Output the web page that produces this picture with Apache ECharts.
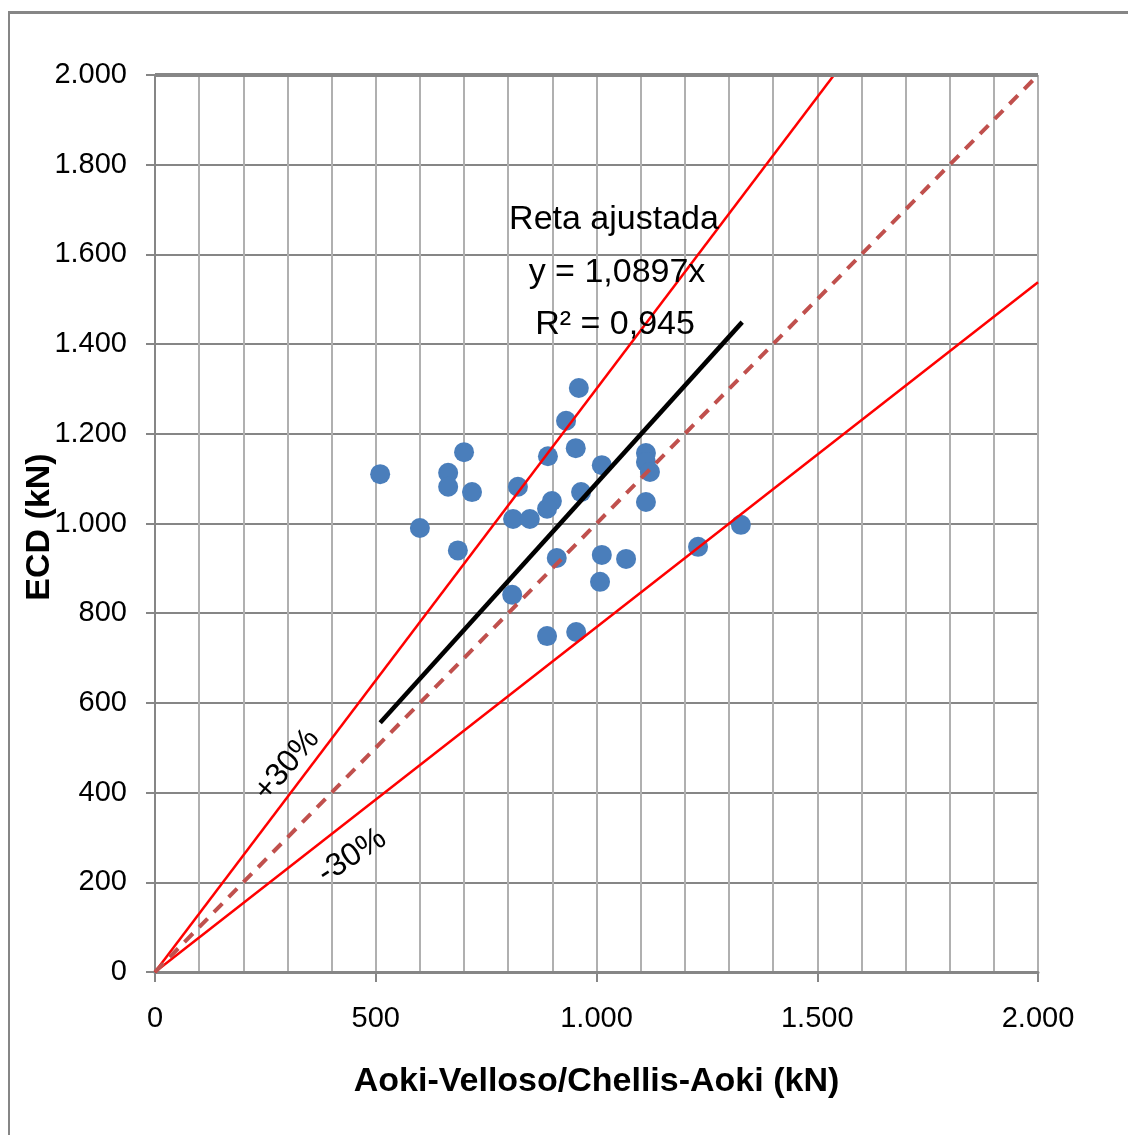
<!DOCTYPE html>
<html>
<head>
<meta charset="utf-8">
<script src="https://cdn.jsdelivr.net/npm/echarts@6/dist/echarts.min.js"></script>
<style>
html,body{margin:0;padding:0;background:#fff;}
#wrap{position:absolute;left:8px;top:11px;width:1130px;height:1130px;border-left:2px solid #868686;border-top:3px solid #868686;box-sizing:border-box;}
#chart{position:absolute;left:0;top:0;width:1128px;height:1135px;}
</style>
</head>
<body>
<div id="wrap"></div>
<div id="chart"></div>
<script>
// Measured points: [Aoki-Velloso/Chellis-Aoki (kN), ECD (kN)]
const pointsX = [510, 600, 686, 664, 664, 700, 718, 822, 811, 849, 809, 890, 899, 888, 910, 888, 954, 931, 960, 953, 1012, 965, 1012, 1067, 1008, 1112, 1112, 1121, 1112, 1230, 1327];
const pointsY = [1110, 990, 940, 1113, 1082, 1159, 1070, 1082, 1010, 1010, 841, 1150, 1050, 1033, 923, 749, 758, 1229, 1302, 1168, 1130, 1070, 930, 921, 870, 1157, 1137, 1115, 1048, 948, 997];

// Reference lines (endpoints)
const linePlus30 = [[0, 0], [1538, 2000]];
const lineMinus30 = [[0, 0], [2000, 1538]];
const lineEqual = [[0, 0], [2000, 2000]];
const lineFit = [[510, 556], [1330, 1449]];

const xTicks = [0, 500, 1000, 1500, 2000];
const yTicks = [0, 200, 400, 600, 800, 1000, 1200, 1400, 1600, 1800, 2000];

const annoTitle = 'Reta ajustada';
const annoEq = 'y = 1,0897x';
const annoR2 = 'R² = 0,945';
const labelPlus = '+30%';
const labelMinus = '-30%';
const xName = 'Aoki-Velloso/Chellis-Aoki (kN)';
const yName = 'ECD (kN)';

const FONT = '"Liberation Sans", Arial, sans-serif';
function fmt(v) { return String(v).replace(/\B(?=(\d{3})+(?!\d))/g, '.'); }

const scatterData = pointsX.map((x, i) => [x, pointsY[i]]);

const chart = echarts.init(document.getElementById('chart'), null, {renderer: 'canvas'});
chart.setOption({
  backgroundColor: 'transparent',
  animation: false,
  grid: {left: 155, right: 90, top: 75, bottom: 163},
  xAxis: {
    type: 'value', min: xTicks[0], max: xTicks[xTicks.length - 1], interval: 500,
    name: xName, nameLocation: 'middle', nameGap: 93,
    nameTextStyle: {fontFamily: FONT, fontWeight: 'bold', fontSize: 34, color: '#000'},
    axisLine: {show: true, onZero: false, lineStyle: {color: '#868686', width: 3}},
    axisTick: {show: true, length: 10, lineStyle: {color: '#868686', width: 2}},
    axisLabel: {fontFamily: FONT, fontSize: 29, color: '#000', margin: 32, formatter: fmt},
    splitLine: {show: true, lineStyle: {color: '#B0B0B0', width: 2}},
    minorTick: {show: false, splitNumber: 5},
    minorSplitLine: {show: true, lineStyle: {color: '#B0B0B0', width: 2}}
  },
  yAxis: {
    type: 'value', min: yTicks[0], max: yTicks[yTicks.length - 1], interval: 200,
    axisLine: {show: true, onZero: false, lineStyle: {color: '#868686', width: 2}},
    axisTick: {show: true, length: 9, lineStyle: {color: '#868686', width: 2}},
    axisLabel: {fontFamily: FONT, fontSize: 29, color: '#000', margin: 28, formatter: fmt},
    splitLine: {show: true, lineStyle: {color: '#868686', width: 2}}
  },
  series: [
    {
      type: 'line', data: linePlus30, symbol: 'none', clip: true, z: 3,
      lineStyle: {color: '#FF0000', width: 2.5},
      markLine: {
        silent: true, symbol: 'none', label: {show: false},
        lineStyle: {color: '#868686', width: 4, type: 'solid'},
        data: [{yAxis: 2000}]
      }
    },
    {type: 'line', data: lineMinus30, symbol: 'none', clip: true, z: 3, lineStyle: {color: '#FF0000', width: 2.5}},
    {type: 'line', data: lineEqual, symbol: 'none', clip: true, z: 3, lineStyle: {color: '#C0504D', width: 4, type: [12, 9]}},
    {type: 'scatter', data: scatterData, symbol: 'circle', symbolSize: 20, z: 2, itemStyle: {color: '#4A7EBB', opacity: 1}},
    {type: 'line', data: lineFit, symbol: 'none', z: 4, lineStyle: {color: '#000000', width: 4.5}}
  ],
  graphic: [
    {type: 'text', x: 40, y: 527, rotation: Math.PI / 2, style: {text: yName, font: 'bold 34px ' + FONT, fill: '#000', textAlign: 'center', textVerticalAlign: 'middle'}, z: 10},
    {type: 'text', x: 614, y: 220, style: {text: annoTitle, font: '34px ' + FONT, fill: '#000', textAlign: 'center', textVerticalAlign: 'middle'}, z: 10},
    {type: 'text', x: 617, y: 273, style: {text: annoEq, font: '34px ' + FONT, fill: '#000', textAlign: 'center', textVerticalAlign: 'middle'}, z: 10},
    {type: 'text', x: 615, y: 325, style: {text: annoR2, font: '34px ' + FONT, fill: '#000', textAlign: 'center', textVerticalAlign: 'middle'}, z: 10},
    {type: 'text', x: 287, y: 765, rotation: 50 * Math.PI / 180, style: {text: labelPlus, font: '32px ' + FONT, fill: '#000', textAlign: 'center', textVerticalAlign: 'middle'}, z: 10},
    {type: 'text', x: 352, y: 856, rotation: 33 * Math.PI / 180, style: {text: labelMinus, font: '32px ' + FONT, fill: '#000', textAlign: 'center', textVerticalAlign: 'middle'}, z: 10}
  ]
});
</script>
</body>
</html>
